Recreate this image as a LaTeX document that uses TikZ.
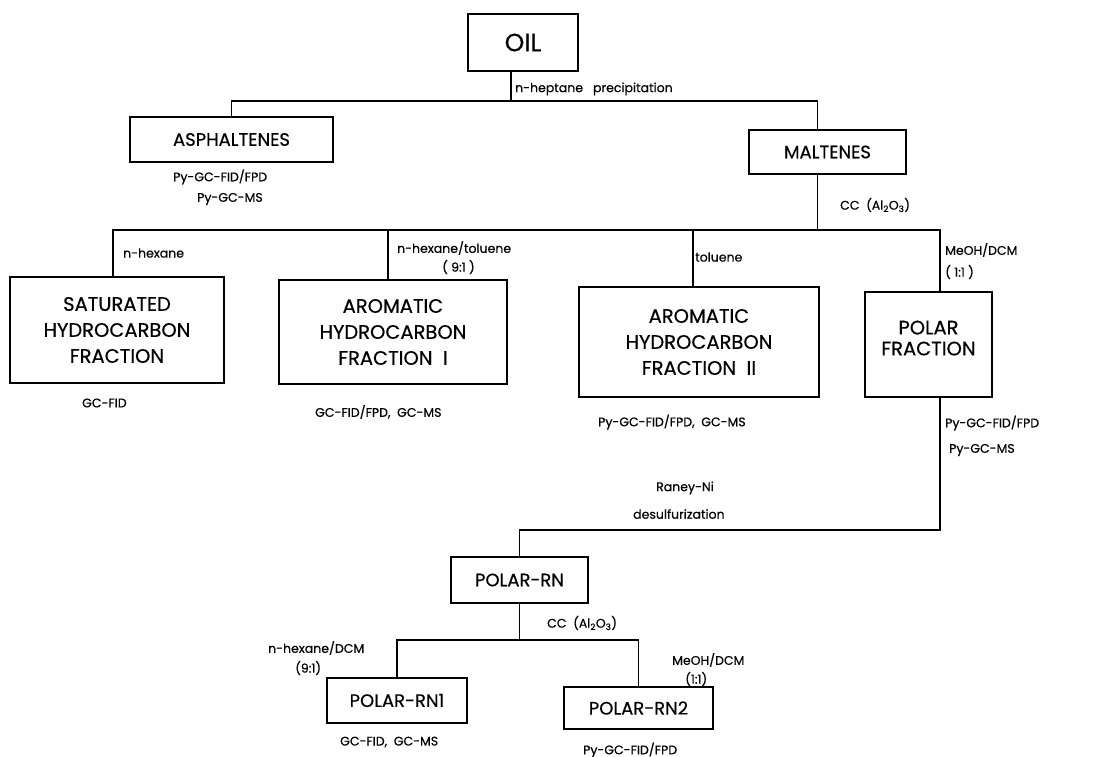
\documentclass[tikz,border=0pt]{standalone}
\usepackage{fontspec}
\setmainfont{Poppins}[FakeBold=0.5]
\usepackage{tikz}

\tikzset{
  box/.style={draw, line width=1.3pt, inner sep=0pt, align=center},
  link/.style={line width=1.2pt},
  lab/.style={anchor=west, inner sep=0pt, font=\fontsize{12.5}{14}\selectfont},
  bigtxt/.style={font=\fontsize{19.5}{26}\selectfont},
  midtxt/.style={font=\fontsize{18}{21}\selectfont}
}

\begin{document}
\begin{tikzpicture}[x=1pt, y=-1pt]
      \useasboundingbox (0,0) rectangle (1095,757);

      \node[box, minimum width=110pt, minimum height=57pt, font=\fontsize{25}{28}\selectfont] (oil) at (523,42.5) {OIL};
      \node[box, midtxt, minimum width=203pt, minimum height=45pt] (asph) at (231.5,139.5) {ASPHALTENES};
      \node[box, midtxt, minimum width=157pt, minimum height=44pt] (malt) at (827.5,152) {MALTENES};
      \node[box, bigtxt, minimum width=214pt, minimum height=106pt] (sat) at (117,330) {SATURATED\\HYDROCARBON\\FRACTION};
      \node[box, bigtxt, minimum width=228pt, minimum height=104pt] (aro1) at (393,332) {AROMATIC\\HYDROCARBON\\FRACTION\ \ I};
      \node[box, bigtxt, minimum width=240pt, minimum height=110pt] (aro2) at (699,342) {AROMATIC\\HYDROCARBON\\FRACTION\ \ II};
      \node[box, font=\fontsize{19.5}{21}\selectfont, minimum width=127pt, minimum height=105pt] (polar) at (928.5,344.5) {POLAR\\FRACTION\\[-8pt]};
      \node[box, midtxt, minimum width=137pt, minimum height=46pt] (rn) at (519.5,580) {POLAR-RN};
      \node[box, midtxt, minimum width=140pt, minimum height=45pt] (rn1) at (397,700.5) {POLAR-RN1};
      \node[box, midtxt, minimum width=149pt, minimum height=42pt] (rn2) at (638.5,708) {POLAR-RN2};

      \coordinate (bus1) at (511,101);
      \coordinate (bus2) at (817.5,230);
      \coordinate (bus3) at (519.5,530);
      \coordinate (bus4) at (519.5,640);

      \draw[link] ([xshift=-12pt]oil.south) -- (bus1);
      \draw[link] (asph.north) |- (bus1);
      \draw[link] ([xshift=-10pt]malt.north) |- (bus1);
      \draw[link] ([xshift=-10pt]malt.south) -- (bus2);
      \draw[link] ([xshift=-4pt]sat.north) |- (bus2);
      \draw[link] ([xshift=-5pt]aro1.north) |- (bus2);
      \draw[link] ([xshift=-6pt]aro2.north) |- (bus2);
      \draw[link] ([xshift=11.5pt]polar.north) |- (bus2);
      \draw[link] ([xshift=11.5pt]polar.south) |- (bus3) -- (rn.north);
      \draw[link] (rn.south) -- (bus4);
      \draw[link] (rn1.north) |- (bus4);
      \draw[link] (rn2.north) |- (bus4);

      \node[lab] (hep) at (515,89) {n-heptane\hspace{10pt}precipitation};
      \node[lab] (asphA) at (173,177) {Py-GC-FID/FPD};
      \node[lab] (asphB) at (197,199) {Py-GC-MS};
      \node[lab] (cc1) at (840,205) {CC\ \ (Al\textsubscript{2}O\textsubscript{3})};
      \node[lab] (hex) at (123,253) {n-hexane};
      \node[lab] (hextol) at (397,248) {n-hexane/toluene};
      \node[lab] (ratio1) at (442,267) {(\ 9:1\ )};
      \node[lab] (tol) at (695,257) {toluene};
      \node[lab] (meoh) at (945,250) {MeOH/DCM};
      \node[lab] (ratio2) at (945,272) {(\ 1:1\ )};
      \node[lab] (satA) at (82,403) {GC-FID};
      \node[lab] (aro1A) at (315,412) {GC-FID/FPD,\ \ GC-MS};
      \node[lab] (aro2A) at (598,422) {Py-GC-FID/FPD,\ \ GC-MS};
      \node[lab] (polA) at (945,423) {Py-GC-FID/FPD};
      \node[lab] (polB) at (949,450) {Py-GC-MS};
      \node[lab] (raney) at (656,488) {Raney-Ni};
      \node[lab] (desul) at (633,514) {desulfurization};
      \node[lab] (cc2) at (547,623) {CC\ \ (Al\textsubscript{2}O\textsubscript{3})};
      \node[lab] (hexdcm) at (268,648) {n-hexane/DCM};
      \node[lab] (ratio3) at (295,668) {(9:1)};
      \node[lab] (meoh2) at (672,660) {MeOH/DCM};
      \node[lab] (ratio4) at (685,679) {(1:1)};
      \node[lab] (rn1A) at (340,742) {GC-FID,\ \ GC-MS};
      \node[lab] (rn2A) at (583,750) {Py-GC-FID/FPD};

    \end{tikzpicture}
\end{document}
